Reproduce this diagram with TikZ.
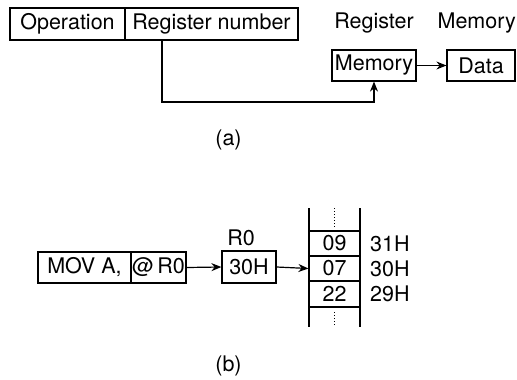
\documentclass[tikz,border=0pt]{standalone}
\usepackage{fontspec}
\setmainfont{TeX Gyre Heros}
\usetikzlibrary{arrows.meta}
\begin{document}
\begin{tikzpicture}[x=1pt,y=-1pt,
  every node/.style={font=\fontsize{21.5}{24}\selectfont, inner sep=0pt},
  cell/.style={draw, line width=1.2pt, rectangle, anchor=center},
  lbl/.style={anchor=center},
  conn/.style={line width=1.2pt, -{Stealth[length=10pt,width=8pt]}},
  wall/.style={line width=1.2pt},
  dots/.style={line width=1pt, dotted}]
\useasboundingbox (0,0) rectangle (517,380);
% (a)
\node[cell, minimum width=115pt, minimum height=32pt] (op) at (67.5,24) {Operation};
\node[cell, minimum width=173pt, minimum height=32pt] (regnum) at (211.5,24) {Register number};
\node[cell, minimum width=84pt, minimum height=31pt] (mem) at (374,65.5) {Memory};
\node[cell, minimum width=68pt, minimum height=31pt] (data) at (481,65.5) {Data};
\node[lbl] (reglbl) at (374,23) {Register};
\node[anchor=east] (memlbl) at (516,23) {Memory};
\coordinate (c1) at (162,102);
\draw[conn] (regnum.south -| c1) -- (c1) -| (mem.south);
\draw[conn] (mem.east) -- (data.west);
\node[lbl] (capa) at (228.5,140) {(a)};
% (b)
\node[cell, minimum width=93pt, minimum height=31pt] (mov) at (84.5,267.5) {MOV A,};
\node[cell, minimum width=55pt, minimum height=31pt] (at) at (158.5,267.5) {@\,R0};
\node[cell, minimum width=54pt, minimum height=32pt] (r0) at (249,267) {30H};
\node[lbl] (r0lbl) at (241,238) {R0};
\node[cell, minimum width=51pt, minimum height=25pt] (m31) at (334.5,243.5) {09};
\node[cell, minimum width=51pt, minimum height=25pt] (m30) at (334.5,268.5) {07};
\node[cell, minimum width=51pt, minimum height=26pt] (m29) at (334.5,294) {22};
\coordinate (wlt) at (309,208);
\coordinate (wlb) at (309,327);
\coordinate (wrt) at (360,208);
\coordinate (wrb) at (360,327);
\draw[wall] (wlt) -- (wlb);
\draw[wall] (wrt) -- (wrb);
\coordinate (dt1) at (334.5,208);
\coordinate (dt2) at (334.5,227);
\coordinate (db1) at (334.5,312);
\coordinate (db2) at (334.5,327);
\draw[dots] (dt1) -- (dt2);
\draw[dots] (db1) -- (db2);
\node[anchor=west] (a31) at (370,243.5) {31H};
\node[anchor=west] (a30) at (370,268.5) {30H};
\node[anchor=west] (a29) at (370,294) {29H};
\draw[conn] (at.east) -- (r0.west);
\draw[conn] (r0.east) -- (m30.west);
\node[lbl] (capb) at (228.5,366) {(b)};
\end{tikzpicture}
\end{document}
